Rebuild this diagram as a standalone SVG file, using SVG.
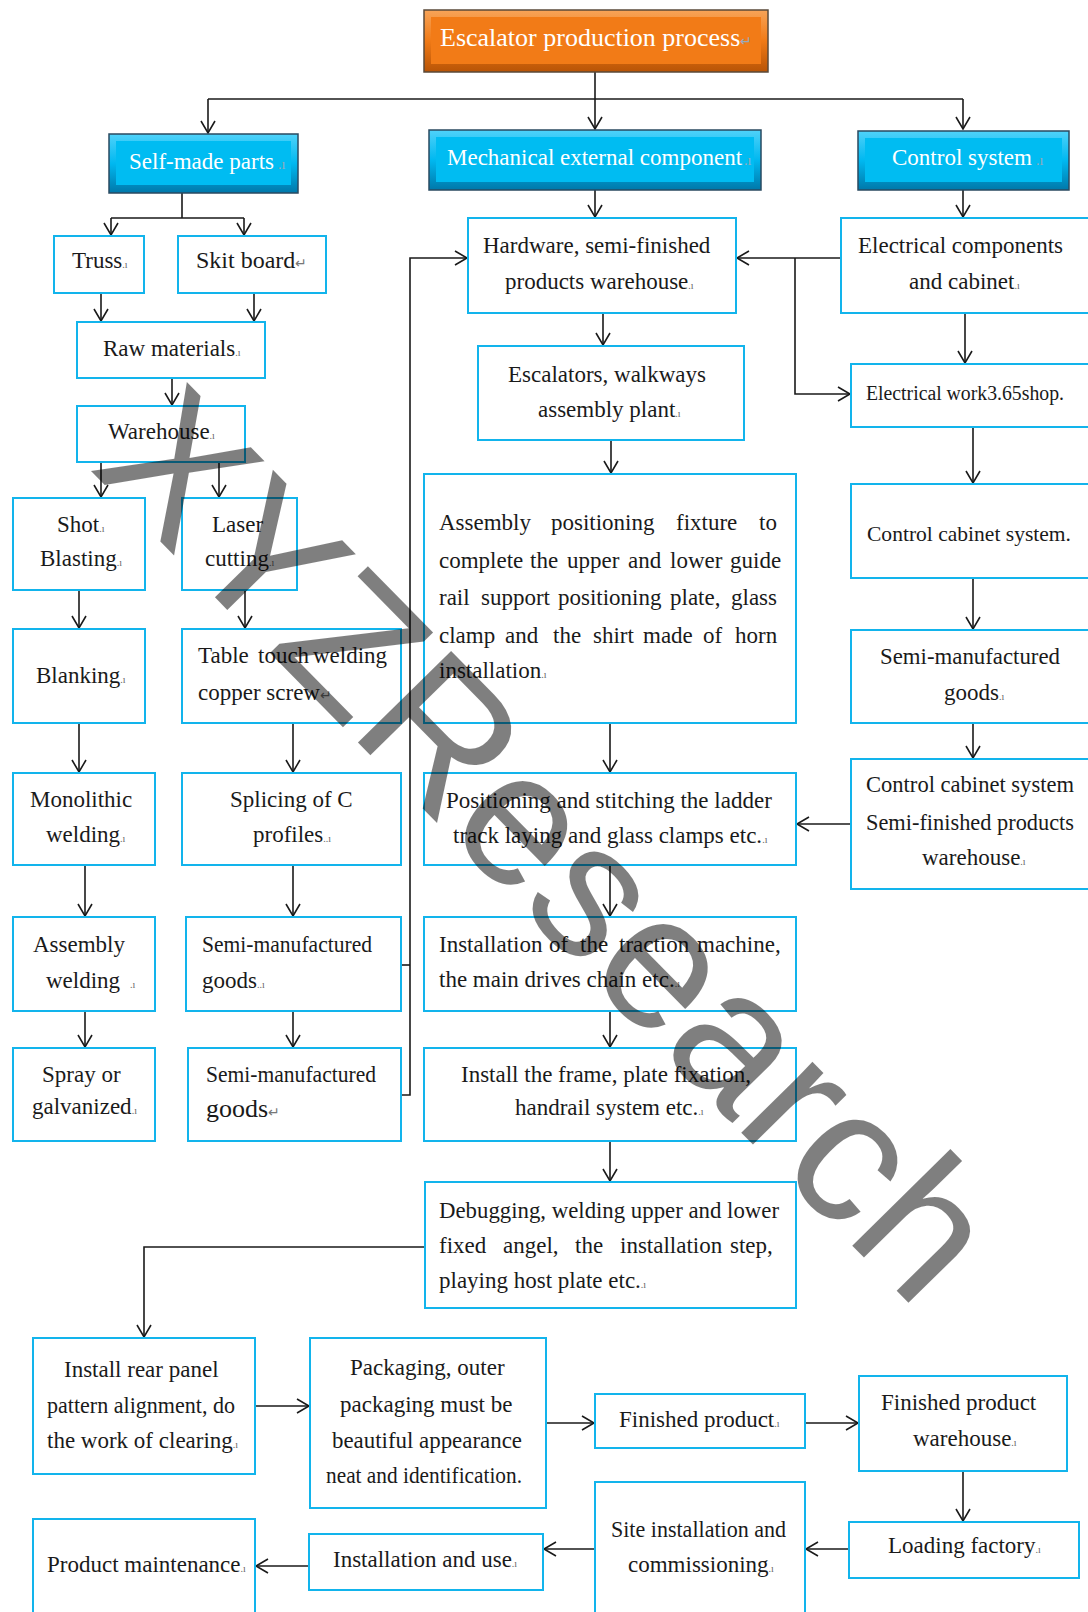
<svg xmlns="http://www.w3.org/2000/svg" width="1088" height="1612" viewBox="0 0 1088 1612">
<style>
.box{fill:#fff;stroke:#12B4EC;stroke-width:2}
.t{font-family:"Liberation Serif",serif;font-size:23px;fill:#1a1a1a}
.tw{font-family:"Liberation Serif",serif;font-size:23px;fill:#fff}
.pm{font-size:10px;fill:#666}
.pmw{font-size:14px;fill:#9ab}
.conn path{fill:none;stroke:#1a1a1a;stroke-width:1.6}
.arr{marker-end:url(#ah)}
</style>
<defs>
<marker id="ah" markerUnits="userSpaceOnUse" markerWidth="16" markerHeight="16" refX="13" refY="8" orient="auto">
<path d="M1,1 L13,8 L1,15" fill="none" stroke="#1a1a1a" stroke-width="1.6"/>
</marker>
<linearGradient id="gBlue" x1="0" y1="0" x2="0" y2="1">
<stop offset="0" stop-color="#4FD2FA"/><stop offset="0.5" stop-color="#00B8F0"/><stop offset="1" stop-color="#0078AA"/>
</linearGradient>
<linearGradient id="gOr" x1="0" y1="0" x2="0" y2="1">
<stop offset="0" stop-color="#F8A458"/><stop offset="0.5" stop-color="#F07A16"/><stop offset="1" stop-color="#B85406"/>
</linearGradient>
</defs>
<rect width="1088" height="1612" fill="#fff"/>

<g class="conn">
<path class="arr" d="M595,72 V129"/>
<path d="M208,99 H963"/>
<path class="arr" d="M208,99 V133"/>
<path class="arr" d="M963,99 V129"/>
<path d="M182,193 V218 M111,218 H244"/>
<path class="arr" d="M111,218 V235"/>
<path class="arr" d="M244,218 V235"/>
<path class="arr" d="M595,190 V217"/>
<path class="arr" d="M963,190 V217"/>
<path class="arr" d="M101,293 V321"/>
<path class="arr" d="M254,293 V321"/>
<path class="arr" d="M172,378 V405"/>
<path class="arr" d="M101,462 V497"/>
<path class="arr" d="M219,462 V497"/>
<path class="arr" d="M79,590 V628"/>
<path class="arr" d="M245,590 V628"/>
<path class="arr" d="M79,723 V772"/>
<path class="arr" d="M293,723 V772"/>
<path class="arr" d="M85,865 V916"/>
<path class="arr" d="M293,865 V916"/>
<path class="arr" d="M85,1011 V1047"/>
<path class="arr" d="M293,1011 V1047"/>
<path class="arr" d="M401,1095 H410 V258 H467"/>
<path d="M401,965 H410"/>
<path class="arr" d="M603,313 V345"/>
<path class="arr" d="M611,440 V473"/>
<path class="arr" d="M610,723 V772"/>
<path class="arr" d="M610,865 V916"/>
<path class="arr" d="M610,1011 V1047"/>
<path class="arr" d="M610,1141 V1181"/>
<path class="arr" d="M841,258 H737"/>
<path class="arr" d="M795,258 V394 H850"/>
<path class="arr" d="M965,313 V363"/>
<path class="arr" d="M973,427 V483"/>
<path class="arr" d="M973,578 V629"/>
<path class="arr" d="M973,723 V758"/>
<path class="arr" d="M851,824 H797"/>
<path class="arr" d="M425,1247 H144 V1337"/>
<path class="arr" d="M255,1406 H309"/>
<path class="arr" d="M546,1423 H594"/>
<path class="arr" d="M805,1423 H858"/>
<path class="arr" d="M963,1471 V1521"/>
<path class="arr" d="M849,1549 H806"/>
<path class="arr" d="M595,1549 H544"/>
<path class="arr" d="M309,1566 H256"/>
</g>

<g id="n-title">
<rect x="424" y="10" width="344" height="62" fill="url(#gOr)" stroke="#5A4A3A" stroke-width="1.5"/>
<rect x="431" y="17" width="330" height="47" fill="#F27B17"/>
<text class="tw" x="440" y="46" style="font-size:26px">Escalator production process<tspan class="pmw">↵</tspan></text>
</g>
<g id="n-self">
<rect x="109" y="134" width="189" height="59" fill="url(#gBlue)" stroke="#2A4A60" stroke-width="1.5"/>
<rect x="116" y="141" width="175" height="44" fill="#00BCF2"/>
<text class="tw" x="129" y="169">Self-made parts<tspan class="pmw" dx="4">.ı</tspan></text>
</g>
<g id="n-mech">
<rect x="429" y="130" width="332" height="60" fill="url(#gBlue)" stroke="#2A4A60" stroke-width="1.5"/>
<rect x="436" y="137" width="318" height="45" fill="#00BCF2"/>
<text class="tw" x="447" y="165">Mechanical external component<tspan class="pmw" dx="2">.ı</tspan></text>
</g>
<g id="n-ctrl">
<rect x="858" y="131" width="211" height="59" fill="url(#gBlue)" stroke="#2A4A60" stroke-width="1.5"/>
<rect x="865" y="138" width="197" height="44" fill="#00BCF2"/>
<text class="tw" x="892" y="165">Control system<tspan class="pmw" dx="4">.ı</tspan></text>
</g>

<g id="n-truss"><rect class="box" x="54" y="236" width="90" height="57"/><text class="t" x="72" y="268">Truss<tspan class="pm">.ı</tspan></text></g>
<g id="n-skit"><rect class="box" x="178" y="236" width="148" height="57"/><text class="t" x="196" y="268" style="font-size:24px">Skit board<tspan class="pmw" style="fill:#777">↵</tspan></text></g>
<g id="n-raw"><rect class="box" x="77" y="322" width="188" height="56"/><text class="t" x="103" y="356">Raw materials<tspan class="pm">.ı</tspan></text></g>
<g id="n-wh"><rect class="box" x="77" y="406" width="168" height="56"/><text class="t" x="108" y="439">Warehouse<tspan class="pm">.ı</tspan></text></g>
<g id="n-shot"><rect class="box" x="13" y="498" width="132" height="92"/><text class="t" x="57" y="532">Shot<tspan class="pm">.ı</tspan></text><text class="t" x="40" y="566">Blasting<tspan class="pm">.ı</tspan></text></g>
<g id="n-laser"><rect class="box" x="182" y="498" width="115" height="92"/><text class="t" x="212" y="532">Laser</text><text class="t" x="205" y="566">cutting<tspan class="pm">.ı</tspan></text></g>
<g id="n-blank"><rect class="box" x="13" y="629" width="132" height="94"/><text class="t" x="36" y="683">Blanking<tspan class="pm">.ı</tspan></text></g>
<g id="n-table"><rect class="box" x="182" y="629" width="219" height="94"/><text class="t" y="663"><tspan x="198">Table</tspan> <tspan x="258">touch</tspan> <tspan x="313">welding</tspan></text><text class="t" x="198" y="700">copper screw<tspan class="pmw" style="fill:#777">↵</tspan></text></g>
<g id="n-mono"><rect class="box" x="13" y="773" width="142" height="92"/><text class="t" x="30" y="807">Monolithic</text><text class="t" x="46" y="842">welding<tspan class="pm">.ı</tspan></text></g>
<g id="n-splice"><rect class="box" x="182" y="773" width="219" height="92"/><text class="t" x="230" y="807">Splicing of C</text><text class="t" x="253" y="842">profiles<tspan class="pm">..ı</tspan></text></g>
<g id="n-asmw"><rect class="box" x="13" y="917" width="142" height="94"/><text class="t" x="33" y="952">Assembly</text><text class="t" x="46" y="988">welding<tspan class="pm" dx="10">.ı</tspan></text></g>
<g id="n-semi1"><rect class="box" x="186" y="917" width="215" height="94"/><text class="t" x="202" y="952" textLength="170" lengthAdjust="spacingAndGlyphs">Semi-manufactured</text><text class="t" x="202" y="988">goods<tspan class="pm">..ı</tspan></text></g>
<g id="n-spray"><rect class="box" x="13" y="1048" width="142" height="93"/><text class="t" x="42" y="1082">Spray or</text><text class="t" x="32" y="1114">galvanized<tspan class="pm">.ı</tspan></text></g>
<g id="n-semi2"><rect class="box" x="188" y="1048" width="213" height="93"/><text class="t" x="206" y="1082" textLength="170" lengthAdjust="spacingAndGlyphs">Semi-manufactured</text><text class="t" x="206" y="1117" style="font-size:26px">goods<tspan class="pmw" style="fill:#777">↵</tspan></text></g>

<g id="n-hw"><rect class="box" x="468" y="218" width="268" height="95"/><text class="t" x="483" y="253">Hardware, semi-finished</text><text class="t" x="505" y="289">products warehouse<tspan class="pm">.ı</tspan></text></g>
<g id="n-esc"><rect class="box" x="478" y="346" width="266" height="94"/><text class="t" x="508" y="382">Escalators, walkways</text><text class="t" x="538" y="417">assembly plant<tspan class="pm">.ı</tspan></text></g>
<g id="n-apf"><rect class="box" x="424" y="474" width="372" height="249"/>
<text class="t" y="530"><tspan x="439">Assembly</tspan> <tspan x="551">positioning</tspan> <tspan x="676">fixture</tspan> <tspan x="759">to</tspan></text>
<text class="t" y="568"><tspan x="439">complete</tspan> <tspan x="530">the</tspan> <tspan x="567">upper</tspan> <tspan x="628">and</tspan> <tspan x="670">lower</tspan> <tspan x="730">guide</tspan></text>
<text class="t" y="605"><tspan x="439">rail</tspan> <tspan x="481">support</tspan> <tspan x="558">positioning</tspan> <tspan x="670">plate,</tspan> <tspan x="731">glass</tspan></text>
<text class="t" y="643"><tspan x="439">clamp</tspan> <tspan x="505">and</tspan> <tspan x="553">the</tspan> <tspan x="593">shirt</tspan> <tspan x="643">made</tspan> <tspan x="703">of</tspan> <tspan x="735">horn</tspan></text>
<text class="t" x="439" y="678">installation<tspan class="pm">.ı</tspan></text></g>
<g id="n-pos"><rect class="box" x="424" y="773" width="372" height="92"/><text class="t" x="446" y="808">Positioning and stitching the ladder</text><text class="t" x="453" y="843">track laying and glass clamps etc.<tspan class="pm">.ı</tspan></text></g>
<g id="n-trac"><rect class="box" x="424" y="917" width="372" height="94"/><text class="t" y="952"><tspan x="439">Installation</tspan> <tspan x="549">of</tspan> <tspan x="580">the</tspan> <tspan x="619">traction</tspan> <tspan x="697">machine,</tspan></text><text class="t" x="439" y="987">the main drives chain etc.<tspan class="pm">.ı</tspan></text></g>
<g id="n-frame"><rect class="box" x="424" y="1048" width="372" height="93"/><text class="t" x="461" y="1082">Install the frame, plate fixation,</text><text class="t" x="515" y="1115">handrail system etc.<tspan class="pm">.ı</tspan></text></g>
<g id="n-debug"><rect class="box" x="425" y="1182" width="371" height="126"/>
<text class="t" x="439" y="1218" textLength="340" lengthAdjust="spacingAndGlyphs">Debugging, welding upper and lower</text>
<text class="t" y="1253"><tspan x="439">fixed</tspan> <tspan x="503">angel,</tspan> <tspan x="575">the</tspan> <tspan x="620">installation</tspan> <tspan x="730">step,</tspan></text>
<text class="t" x="439" y="1288">playing host plate etc.<tspan class="pm">.ı</tspan></text></g>

<g id="n-elec"><rect class="box" x="841" y="218" width="260" height="95"/><text class="t" x="858" y="253">Electrical components</text><text class="t" x="909" y="289">and cabinet<tspan class="pm">.ı</tspan></text></g>
<g id="n-ework"><rect class="box" x="851" y="364" width="250" height="63"/><text class="t" x="866" y="400" style="font-size:20px" textLength="198" lengthAdjust="spacingAndGlyphs">Electrical work3.65shop.</text></g>
<g id="n-ccs"><rect class="box" x="851" y="484" width="250" height="94"/><text class="t" x="867" y="541" style="font-size:21px" textLength="204" lengthAdjust="spacingAndGlyphs">Control cabinet system.</text></g>
<g id="n-semi3"><rect class="box" x="851" y="630" width="250" height="93"/><text class="t" x="880" y="664" textLength="180" lengthAdjust="spacingAndGlyphs">Semi-manufactured</text><text class="t" x="944" y="700">goods<tspan class="pm">.ı</tspan></text></g>
<g id="n-ccsw"><rect class="box" x="851" y="759" width="250" height="130"/><text class="t" x="866" y="792" textLength="208" lengthAdjust="spacingAndGlyphs">Control cabinet system</text><text class="t" x="866" y="830" textLength="208" lengthAdjust="spacingAndGlyphs">Semi-finished products</text><text class="t" x="922" y="865">warehouse<tspan class="pm">.ı</tspan></text></g>

<g id="n-rear"><rect class="box" x="33" y="1338" width="222" height="136"/><text class="t" x="64" y="1377">Install rear panel</text><text class="t" x="47" y="1413" textLength="188" lengthAdjust="spacingAndGlyphs">pattern alignment, do</text><text class="t" x="47" y="1448">the work of clearing<tspan class="pm">.ı</tspan></text></g>
<g id="n-pack"><rect class="box" x="310" y="1338" width="236" height="170"/><text class="t" x="350" y="1375">Packaging, outer</text><text class="t" x="340" y="1412">packaging must be</text><text class="t" x="332" y="1448" textLength="190" lengthAdjust="spacingAndGlyphs">beautiful appearance</text><text class="t" x="326" y="1483" textLength="196" lengthAdjust="spacingAndGlyphs">neat and identification.</text></g>
<g id="n-fin"><rect class="box" x="595" y="1394" width="210" height="54"/><text class="t" x="619" y="1427">Finished product<tspan class="pm">.ı</tspan></text></g>
<g id="n-finwh"><rect class="box" x="859" y="1376" width="208" height="95"/><text class="t" x="881" y="1410">Finished product</text><text class="t" x="913" y="1446">warehouse<tspan class="pm">.ı</tspan></text></g>
<g id="n-load"><rect class="box" x="849" y="1522" width="230" height="56"/><text class="t" x="888" y="1553">Loading factory<tspan class="pm">.ı</tspan></text></g>
<g id="n-site"><rect class="box" x="595" y="1482" width="210" height="150"/><text class="t" x="611" y="1537" textLength="175" lengthAdjust="spacingAndGlyphs">Site installation and</text><text class="t" x="628" y="1572">commissioning<tspan class="pm">.ı</tspan></text></g>
<g id="n-use"><rect class="box" x="309" y="1534" width="234" height="56"/><text class="t" x="333" y="1567">Installation and use<tspan class="pm">.ı</tspan></text></g>
<g id="n-maint"><rect class="box" x="33" y="1519" width="222" height="113"/><text class="t" x="47" y="1572">Product maintenance<tspan class="pm">.ı</tspan></text></g>

<text x="0" y="0" transform="translate(88,468) rotate(45.5)" font-family="Liberation Sans, Arial, sans-serif" font-size="190" fill="#000" fill-opacity="0.5">XYZResearch</text>
</svg>
